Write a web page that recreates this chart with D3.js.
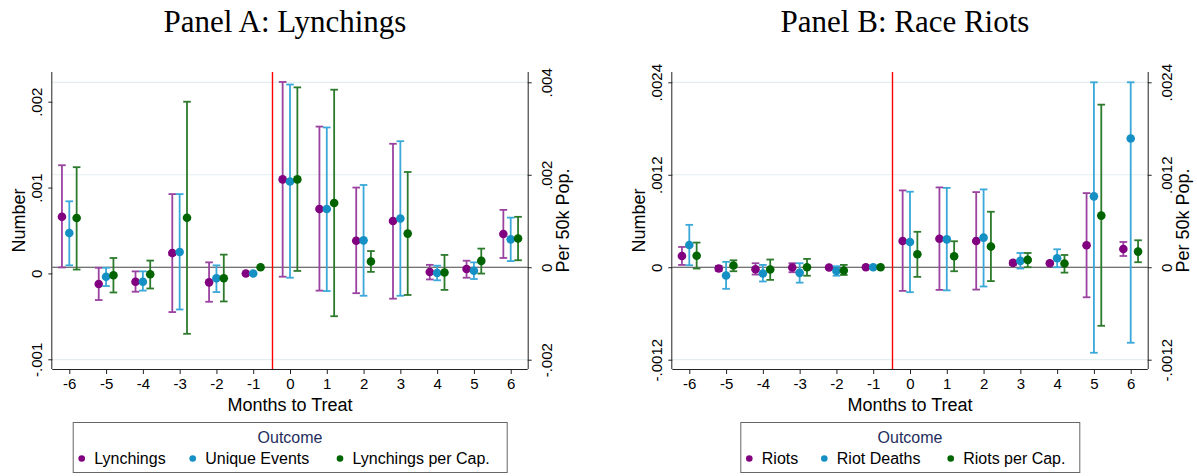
<!DOCTYPE html>
<html>
<head>
<meta charset="utf-8">
<script src="https://cdn.jsdelivr.net/npm/d3@7"></script>
<style>
  html, body { margin: 0; padding: 0; background: #fff; }
  svg { display: block; }
</style>
</head>
<body>
<svg id="chart" width="1197" height="476"></svg>
<script>
// Months to treatment (shared x categories)
const months = [-6, -5, -4, -3, -2, -1, 0, 1, 2, 3, 4, 5, 6];

// Panel A: Lynchings (left axis: Number)
const lynchEst = [0.00066, -0.000123, -0.000097, 0.000237, -0.000104, 0, 0.001095, 0.00075, 0.00038, 0.00061, 0.000016, 0.000051, 0.00046];
const lynchLo  = [0.00007, -0.00031, -0.000213, -0.00045, -0.00033, null, -0.000038, -0.0002, -0.00023, -0.000294, -0.00007, -0.00005, 0.00018];
const lynchHi  = [0.00126, 0.000066, 0.000024, 0.000924, 0.000129, null, 0.00223, 0.00171, 0.001, 0.00151, 0.0001, 0.000148, 0.00074];
// Unique events (left axis)
const eventsEst = [0.00047, -0.000038, -0.000097, 0.000249, -0.000057, 0, 0.00107, 0.00075, 0.000385, 0.00064, 0.000005, 0.000031, 0.000397];
const eventsLo  = [0.000094, -0.000147, -0.0002, -0.00042, -0.000217, null, -0.00005, -0.000205, -0.00026, -0.00026, -0.00008, -0.000065, 0.000144];
const eventsHi  = [0.00084, 0.000066, 0.000024, 0.000924, 0.000094, null, 0.0022, 0.0017, 0.00103, 0.00154, 0.00009, 0.000129, 0.00065];
// Lynchings per cap. (right axis: Per 50k Pop.)
const lpcEst = [0.001064, -0.000173, -0.000151, 0.00107, -0.000237, 0, 0.0019, 0.00139, 0.000123, 0.000727, -0.000115, 0.000137, 0.00062];
const lpcLo  = [-0.00005, -0.000546, -0.00046, -0.00144, -0.00074, null, -0.00008, -0.00106, -0.0001, -0.0006, -0.00049, -0.000137, 0.000151];
const lpcHi  = [0.002164, 0.0002, 0.000144, 0.00358, 0.000273, null, 0.00389, 0.00384, 0.00035, 0.00206, 0.000266, 0.000403, 0.00109];

// Panel B: Race riots
const riotsEst = [0.000146, -0.000017, -0.000026, -0.000004, -0.000004, 0, 0.00034, 0.00037, 0.00034, 0.000056, 0.000052, 0.000285, 0.000237];
const riotsLo  = [0.00003, -0.000048, -0.000095, -0.000065, -0.00002, null, -0.000307, -0.000294, -0.00029, 0.00003, 0.000036, -0.00039, 0.000146];
const riotsHi  = [0.000263, 0.000017, 0.000052, 0.000052, 0.000012, null, 0.000997, 0.001036, 0.000975, 0.000086, 0.000068, 0.000962, 0.000328];
const deathsEst = [0.000289, -0.000108, -0.000082, -0.000073, -0.000048, 0, 0.000328, 0.000362, 0.000384, 0.000082, 0.000116, 0.00092, 0.00167];
const deathsLo  = [0.000026, -0.00028, -0.000185, -0.0002, -0.00011, null, -0.000324, -0.0003, -0.00025, -0.000017, 0, -0.00111, -0.00098];
const deathsHi  = [0.00055, 0.00007, 0.00003, 0.000052, 0.000013, null, 0.00098, 0.00103, 0.00101, 0.000185, 0.000233, 0.0024, 0.0024];
const rpcEst = [0.00015, 0.000022, -0.00003, 0, -0.000043, 0, 0.000168, 0.000142, 0.000268, 0.000095, 0.000048, 0.00067, 0.000203];
const rpcLo  = [-0.000017, -0.000052, -0.000164, -0.00011, -0.0001, null, -0.000125, -0.000052, -0.00018, 0, -0.00007, -0.00076, 0.000065];
const rpcHi  = [0.00032, 0.00009, 0.0001, 0.000108, 0.00003, null, 0.00046, 0.000337, 0.00072, 0.000185, 0.000159, 0.00211, 0.00035];

// Axis ticks
const ticksALeft = [-0.001, 0, 0.001, 0.002];
const ticksARight = [-0.002, 0, 0.002, 0.004];
const ticksB = [-0.0012, 0, 0.0012, 0.0024];

const fmt = v => v === 0 ? "0" : String(v).replace("0.", ".");

const svg = d3.select("#chart");
const SANS = "'Liberation Sans', Arial, sans-serif";
const SERIF = "'Liberation Serif', 'Times New Roman', serif";

const colors = {
  purple: { dot: "#800080", bar: "#9a42a0" },
  blue:   { dot: "#1590c4", bar: "#3aa8d8" },
  green:  { dot: "#006400", bar: "#2c7a2c" }
};

function drawPanel(p) {
  const g = svg.append("g");
  const top = 72, bottom = 369;

  const x = d3.scaleLinear().domain([-6.462, 6.462]).range([p.left, p.right]);
  const yL = d3.scaleLinear().domain(p.leftDomain).range(p.leftRange);
  const yR = d3.scaleLinear().domain(p.rightDomain).range(p.rightRange);

  // gridlines (from right axis)
  g.append("g").selectAll("line")
    .data(p.rightTicks.filter(d => d !== 0))
    .join("line")
    .attr("x1", p.left).attr("x2", p.right)
    .attr("y1", d => yR(d)).attr("y2", d => yR(d))
    .attr("stroke", "#e4eef1").attr("stroke-width", 1.2);

  // zero line
  g.append("line")
    .attr("x1", p.left).attr("x2", p.right)
    .attr("y1", yR(0)).attr("y2", yR(0))
    .attr("stroke", "#444").attr("stroke-width", 1.2);

  // treatment line
  const xr = Math.round(x(-0.5)) + 0.5;
  g.append("line")
    .attr("x1", xr).attr("x2", xr)
    .attr("y1", top).attr("y2", bottom)
    .attr("stroke", "#ff0000").attr("stroke-width", 1.4);

  // axes
  const axisColor = "#222";
  const leftAxis = d3.axisLeft(yL).tickValues(p.leftTicks).tickFormat(fmt).tickSize(4).tickPadding(5);
  const ga = g.append("g").attr("transform", `translate(${p.left},0)`).call(leftAxis);
  ga.select(".domain").attr("d", `M-0.5,${top}V${bottom}`);
  const rightAxis = d3.axisRight(yR).tickValues(p.rightTicks).tickFormat(fmt).tickSize(4).tickPadding(9);
  const gr = g.append("g").attr("transform", `translate(${p.right},0)`).call(rightAxis);
  gr.select(".domain").attr("d", `M0.5,${top}V${bottom}`);
  const bottomAxis = d3.axisBottom(x).tickValues(months).tickFormat(d => d).tickSize(5).tickPadding(4);
  const gb = g.append("g").attr("transform", `translate(0,${bottom})`).call(bottomAxis);
  gb.select(".domain").attr("d", `M${p.left},0.5H${p.right}`);

  [ga, gr, gb].forEach(a => {
    a.attr("font-family", SANS).attr("font-size", 15);
    a.selectAll("path, line").attr("stroke", axisColor);
    a.selectAll("text").attr("fill", "#000");
  });
  // rotate y tick labels
  ga.selectAll(".tick text")
    .attr("text-anchor", "middle").attr("dy", 0)
    .attr("transform", "rotate(-90)")
    .attr("x", 0).attr("y", -10);
  gr.selectAll(".tick text")
    .attr("text-anchor", "middle").attr("dy", 0)
    .attr("transform", "rotate(-90)")
    .attr("x", 0).attr("y", 24);

  // axis titles
  g.append("text")
    .attr("transform", `translate(${p.left - 27},${(top + bottom) / 2}) rotate(-90)`)
    .attr("text-anchor", "middle").attr("font-family", SANS).attr("font-size", 18)
    .text("Number");
  g.append("text")
    .attr("transform", `translate(${p.right + 41},${(top + bottom) / 2}) rotate(-90)`)
    .attr("text-anchor", "middle").attr("font-family", SANS).attr("font-size", 18)
    .text("Per 50k Pop.");
  g.append("text")
    .attr("x", (p.left + p.right) / 2).attr("y", 411)
    .attr("text-anchor", "middle").attr("font-family", SANS).attr("font-size", 18)
    .text("Months to Treat");

  // title
  g.append("text")
    .attr("x", (p.left + p.right) / 2 - 5).attr("y", 32)
    .attr("text-anchor", "middle").attr("font-family", SERIF).attr("font-size", 31)
    .text(p.title);

  // series
  p.series.forEach(s => {
    const y = s.axis === "right" ? yR : yL;
    const rows = months.map((m, i) => ({ m: m + s.offset, est: s.est[i], lo: s.lo[i], hi: s.hi[i] }));
    const sg = g.append("g");
    const ci = rows.filter(d => d.lo !== null);
    sg.selectAll("line.bar").data(ci).join("line").attr("class", "bar")
      .attr("x1", d => x(d.m)).attr("x2", d => x(d.m))
      .attr("y1", d => y(d.lo)).attr("y2", d => y(d.hi))
      .attr("stroke", s.color.bar).attr("stroke-width", 1.8);
    ["lo", "hi"].forEach(k => {
      sg.selectAll("line.cap" + k).data(ci).join("line").attr("class", "cap" + k)
        .attr("x1", d => x(d.m) - 3.8).attr("x2", d => x(d.m) + 3.8)
        .attr("y1", d => y(d[k])).attr("y2", d => y(d[k]))
        .attr("stroke", s.color.bar).attr("stroke-width", 1.8);
    });
    sg.selectAll("circle").data(rows).join("circle")
      .attr("cx", d => x(d.m)).attr("cy", d => y(d.est)).attr("r", 4.3)
      .attr("fill", s.color.dot);
  });

  // legend
  const lg = g.append("g");
  lg.append("rect")
    .attr("x", p.legend.x0 + 0.5).attr("y", 422.5)
    .attr("width", p.legend.x1 - p.legend.x0).attr("height", 50)
    .attr("fill", "#fff").attr("stroke", "#666").attr("stroke-width", 1);
  lg.append("text")
    .attr("x", (p.left + p.right) / 2).attr("y", 443)
    .attr("text-anchor", "middle").attr("font-family", SANS).attr("font-size", 16)
    .attr("fill", "#1e2e5c").text("Outcome");
  p.series.forEach((s, i) => {
    lg.append("circle").attr("cx", p.legend.dots[i]).attr("cy", 458.5).attr("r", 3.3).attr("fill", s.color.dot);
    lg.append("text").attr("x", p.legend.dots[i] + 12.5).attr("y", 464)
      .attr("font-family", SANS).attr("font-size", 16).attr("fill", "#000").text(s.name);
  });
}

drawPanel({
  title: "Panel A: Lynchings",
  left: 52.3, right: 527.7,
  leftDomain: [-0.001, 0.002], leftRange: [359.3, 101.7],
  rightDomain: [-0.002, 0.004], rightRange: [359.7, 82.3],
  leftTicks: ticksALeft, rightTicks: ticksARight,
  series: [
    { name: "Lynchings", est: lynchEst, lo: lynchLo, hi: lynchHi, offset: -0.2, axis: "left", color: colors.purple },
    { name: "Unique Events", est: eventsEst, lo: eventsLo, hi: eventsHi, offset: 0, axis: "left", color: colors.blue },
    { name: "Lynchings per Cap.", est: lpcEst, lo: lpcLo, hi: lpcHi, offset: 0.2, axis: "right", color: colors.green }
  ],
  legend: { x0: 72.7, x1: 506.7, dots: [81.7, 192.7, 340] }
});

drawPanel({
  title: "Panel B: Race Riots",
  left: 672.3, right: 1147.7,
  leftDomain: [-0.0012, 0.0024], leftRange: [359.7, 82.3],
  rightDomain: [-0.0012, 0.0024], rightRange: [359.7, 82.3],
  leftTicks: ticksB, rightTicks: ticksB,
  series: [
    { name: "Riots", est: riotsEst, lo: riotsLo, hi: riotsHi, offset: -0.2, axis: "left", color: colors.purple },
    { name: "Riot Deaths", est: deathsEst, lo: deathsLo, hi: deathsHi, offset: 0, axis: "left", color: colors.blue },
    { name: "Riots per Cap.", est: rpcEst, lo: rpcLo, hi: rpcHi, offset: 0.2, axis: "right", color: colors.green }
  ],
  legend: { x0: 740.3, x1: 1079.3, dots: [749.3, 824.3, 950.7] }
});
</script>
</body>
</html>
